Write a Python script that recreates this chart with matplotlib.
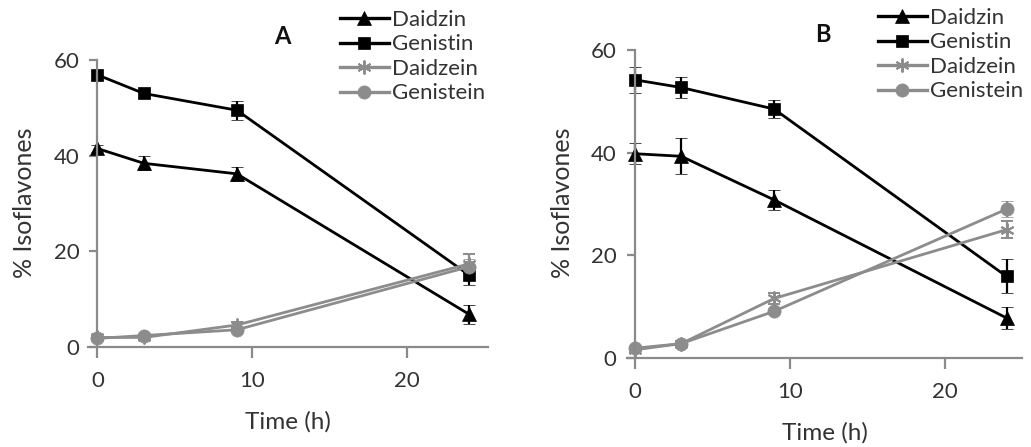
import matplotlib
matplotlib.use("Agg")
import matplotlib.pyplot as plt
from matplotlib.lines import Line2D

plt.rcParams['font.family'] = ['Lato', 'DejaVu Sans']

time = [0, 3, 9, 24]
series_names = ["Daidzin", "Genistin", "Daidzein", "Genistein"]

# Panel A
a_daidzin = [41.5, 38.4, 36.2, 6.8]
a_daidzin_err = [0.8, 1.5, 1.5, 2.0]
a_genistin = [56.9, 53.0, 49.5, 15.0]
a_genistin_err = [1.0, 0.8, 2.0, 2.0]
a_daidzein = [2.0, 2.0, 4.6, 17.4]
a_daidzein_err = [0.4, 0.4, 0.6, 2.0]
a_genistein = [1.8, 2.4, 3.6, 16.8]
a_genistein_err = [0.4, 0.4, 0.5, 1.5]

# Panel B
b_daidzin = [39.8, 39.3, 30.8, 7.8]
b_daidzin_err = [2.0, 3.5, 2.0, 2.2]
b_genistin = [54.2, 52.7, 48.5, 15.9]
b_genistin_err = [2.5, 2.0, 1.8, 3.3]
b_daidzein = [1.6, 2.8, 11.6, 25.0]
b_daidzein_err = [0.5, 0.5, 1.0, 1.6]
b_genistein = [1.9, 2.8, 9.1, 29.0]
b_genistein_err = [0.5, 0.5, 0.6, 1.5]

BLACK = "#000000"
GRAY = "#8c8c8c"
TXT = "#333333"
AXC = "#8a8a8a"
styles = [
    dict(color=BLACK, marker="^", ms=10),
    dict(color=BLACK, marker="s", ms=9),
    dict(color=GRAY, marker=(6, 2, 0), ms=10),
    dict(color=GRAY, marker="o", ms=9.5),
]

fig = plt.figure(figsize=(10.31, 4.47), dpi=100)

panels = [
    dict(rect=[0.0854, 0.2237, 0.3879, 0.6421], xmin=-0.6, xmax=25.2,
         data=[(a_daidzin, a_daidzin_err), (a_genistin, a_genistin_err),
               (a_daidzein, a_daidzein_err), (a_genistein, a_genistein_err)],
         label="A", label_xy=(282, 37), leg_xy=(340, 10), ylab_x=25, xlab_y=422),
    dict(rect=[0.6081, 0.1991, 0.3832, 0.6890], xmin=-0.5, xmax=25.0,
         data=[(b_daidzin, b_daidzin_err), (b_genistin, b_genistin_err),
               (b_daidzein, b_daidzein_err), (b_genistein, b_genistein_err)],
         label="B", label_xy=(823, 35), leg_xy=(878, 8), ylab_x=563, xlab_y=433),
]

W, H = 1031, 447
for p in panels:
    ax = fig.add_axes(p["rect"])
    handles = []
    for (vals, errs), st, name in zip(p["data"], styles, series_names):
        mew = 1.4 if st["marker"] == (6, 2, 0) else 0.5
        ax.errorbar(time, vals, yerr=errs, color=st["color"], marker=st["marker"],
                    ms=st["ms"], lw=2.0, elinewidth=1.6, capsize=4, capthick=1.6,
                    mew=mew, mec=st["color"], mfc=st["color"], clip_on=False)
        handles.append(Line2D([], [], color=st["color"], marker=st["marker"], ms=st["ms"],
                              lw=2.4, mew=mew, mec=st["color"], mfc=st["color"], label=name))
    ax.set_xlim(p["xmin"], p["xmax"])
    ax.set_ylim(0, 60)
    ax.set_xticks([0, 10, 20])
    ax.set_yticks([0, 20, 40, 60])
    for s in ["top", "right"]:
        ax.spines[s].set_visible(False)
    ax.spines["left"].set_position(("data", 0))
    for s in ["left", "bottom"]:
        ax.spines[s].set_color(AXC)
        ax.spines[s].set_linewidth(1.6)
    ax.tick_params(axis="x", direction="out", length=8, width=1.6, color=AXC,
                   labelsize=16, labelcolor=TXT, pad=9)
    ax.tick_params(axis="y", direction="out", length=6, width=1.6, color=AXC,
                   labelsize=16, labelcolor=TXT, pad=7)
    fig.text(p["ylab_x"] / W, 1 - 203 / H, "% Isoflavones", rotation=90,
             ha="center", va="center", fontsize=18, color=TXT)
    x0, x1 = p["rect"][0], p["rect"][0] + p["rect"][2]
    fig.text((x0 + x1) / 2, 1 - p["xlab_y"] / H, "Time (h)", ha="center", va="center",
             fontsize=17.5, color=TXT)
    fig.text(p["label_xy"][0] / W, 1 - p["label_xy"][1] / H, p["label"], ha="center",
             va="center", fontsize=17, fontweight="bold", color="#111111")
    leg = fig.legend(handles=handles, loc="upper left",
                     bbox_to_anchor=(p["leg_xy"][0] / W, 1 - p["leg_xy"][1] / H),
                     frameon=False, fontsize=16, handlelength=2.2, handletextpad=0.15,
                     labelspacing=0.2, borderpad=0, borderaxespad=0)
    for t in leg.get_texts():
        t.set_color(TXT)

fig.savefig("out.png", dpi=100)
